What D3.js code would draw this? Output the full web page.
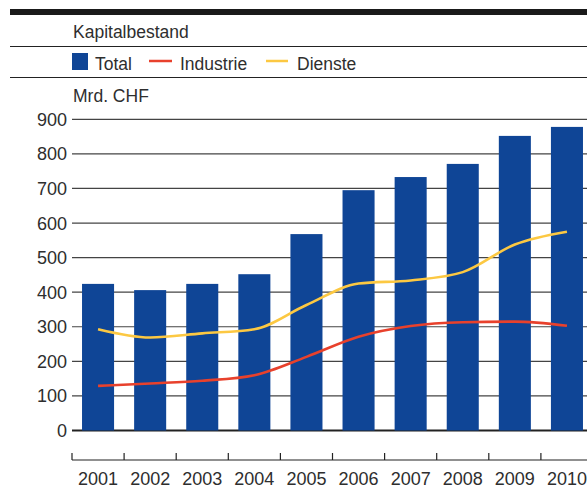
<html>
<head>
<script src="https://cdn.jsdelivr.net/npm/d3@7"></script>
<style>
  body { margin: 0; background: #fff; }
  text { font-family: "Liberation Sans", Arial, sans-serif; fill: #2e2e2e; }
</style>
</head>
<body>
<svg id="chart" width="587" height="488"></svg>
<script>
// data
const years = ["2001","2002","2003","2004","2005","2006","2007","2008","2009","2010"]
const total = [424, 406, 424, 452, 568, 695, 733, 771, 852, 878]
const industrie = [129, 136, 144, 160, 213, 271, 302, 313, 315, 303]
const dienste = [293, 269, 281, 293, 363, 425, 434, 458, 538, 575]
const yTicks = [0, 100, 200, 300, 400, 500, 600, 700, 800, 900]

const blue = "#0f4596", red = "#e8412c", yellow = "#fcc842"

let svg = d3.select("#chart")

// header block
svg.append("rect").attr("x", 10).attr("y", 9).attr("width", 577).attr("height", 6).attr("fill", "#1a1a1a")
svg.append("text").attr("x", 73).attr("y", 38).attr("font-size", 17.5).text("Kapitalbestand")
svg.append("line").attr("x1", 10).attr("x2", 587).attr("y1", 46.5).attr("y2", 46.5).attr("stroke", "#222").attr("stroke-width", 1.2)
svg.append("line").attr("x1", 10).attr("x2", 587).attr("y1", 77.5).attr("y2", 77.5).attr("stroke", "#222").attr("stroke-width", 1.2)
svg.append("text").attr("x", 73).attr("y", 102).attr("font-size", 17.5).text("Mrd. CHF")

// legend
let legend = svg.append("g")
legend.append("rect").attr("x", 72).attr("y", 53).attr("width", 16).attr("height", 17).attr("fill", blue)
legend.append("text").attr("x", 95).attr("y", 70).attr("font-size", 17.5).text("Total")
legend.append("line").attr("x1", 149).attr("x2", 172).attr("y1", 61).attr("y2", 61).attr("stroke", red).attr("stroke-width", 2.5)
legend.append("text").attr("x", 180).attr("y", 70).attr("font-size", 17.5).text("Industrie")
legend.append("line").attr("x1", 266).attr("x2", 288).attr("y1", 61).attr("y2", 61).attr("stroke", yellow).attr("stroke-width", 2.5)
legend.append("text").attr("x", 297).attr("y", 70).attr("font-size", 17.5).text("Dienste")

// scales
let x = d3.scaleBand().domain(years).range([72, 593]).paddingInner(0.385).paddingOuter(0.1925)
let y = d3.scaleLinear().domain([0, 900]).range([430.5, 119.3])

// gridlines
svg.append("g").selectAll("line")
  .data(yTicks).enter().append("line")
  .attr("x1", 72).attr("x2", 587)
  .attr("y1", d => y(d)).attr("y2", d => y(d))
  .attr("stroke", d => d == 0 ? "#222" : "#444")
  .attr("stroke-width", d => d == 0 ? 2 : 1.2)

svg.append("g").selectAll("text")
  .data(yTicks).enter().append("text")
  .attr("x", 67).attr("y", d => y(d) + 6.5)
  .attr("text-anchor", "end").attr("font-size", 18)
  .text(d => d)

// bars
svg.append("g").selectAll("rect")
  .data(total).enter().append("rect")
  .attr("x", (d, i) => x(years[i]))
  .attr("y", d => y(d))
  .attr("width", x.bandwidth())
  .attr("height", d => y(0) - y(d))
  .attr("fill", blue)

// lines
let line = d3.line()
  .x((d, i) => x(years[i]) + x.bandwidth() / 2)
  .y(d => y(d))
  .curve(d3.curveMonotoneX)

svg.append("path").attr("d", line(dienste)).attr("fill", "none").attr("stroke", yellow).attr("stroke-width", 2.6)
svg.append("path").attr("d", line(industrie)).attr("fill", "none").attr("stroke", red).attr("stroke-width", 2.6)

// x axis at the bottom
let xAxis = svg.append("g")
xAxis.append("line").attr("x1", 72).attr("x2", 587).attr("y1", 460).attr("y2", 460).attr("stroke", "#222").attr("stroke-width", 1.2)
xAxis.selectAll(".tick")
  .data(years).enter().append("line")
  .attr("x1", d => x(d) - x.step() * x.paddingOuter()).attr("x2", d => x(d) - x.step() * x.paddingOuter())
  .attr("y1", 453).attr("y2", 460)
  .attr("stroke", "#222").attr("stroke-width", 1.2)
xAxis.selectAll("text")
  .data(years).enter().append("text")
  .attr("x", d => x(d) + x.bandwidth() / 2).attr("y", 485)
  .attr("text-anchor", "middle").attr("font-size", 18)
  .text(d => d)
</script>
</body>
</html>
